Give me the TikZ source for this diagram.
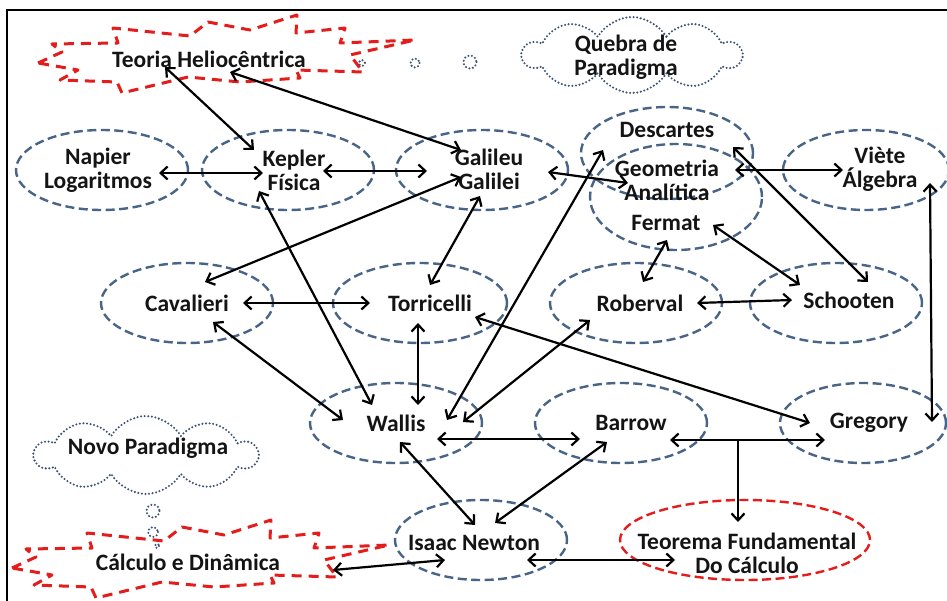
\documentclass[tikz,border=0pt]{standalone}
\usepackage{fontspec}
\setmainfont{Carlito}
\usetikzlibrary{shapes.geometric,shapes.symbols,arrows.meta,calc}
\definecolor{ellc}{RGB}{72,100,135}
\definecolor{redc}{RGB}{228,28,28}
\definecolor{dotc}{RGB}{60,82,118}
\begin{document}
\begin{tikzpicture}[x=1pt,y=-1pt,
  ell/.style={ellipse, draw=ellc, line width=2.4pt, dash pattern=on 9pt off 4.5pt, minimum width=172pt, minimum height=80pt, inner sep=0pt},
  redell/.style={ell, draw=redc},
  txt/.style={font=\fontsize{23.5}{24}\selectfont\bfseries, align=center, inner sep=1pt, text=black!92},
  arr/.style={line width=2.2pt, {Straight Barb[length=7pt,width=13pt]}-{Straight Barb[length=7pt,width=13pt]}},
  arrone/.style={line width=2.2pt, -{Straight Barb[length=7pt,width=13pt]}},
  boom/.style={draw=redc, line width=3pt, dash pattern=on 10pt off 7pt, line join=round},
  dotted line/.style={draw=dotc, line width=2.3pt, line cap=round, dash pattern=on 0pt off 3.6pt},
  puff/.style={cloud, cloud puffs=10, cloud puff arc=120, aspect=2.8, dotted line, inner sep=0pt}
]
\useasboundingbox (0,0) rectangle (947,601);
\clip (0,0) rectangle (947,601);
\fill[white] (0,0) rectangle (947,601);
% frame
\draw[line width=2.6pt] (7,620) -- (7,10) -- (960,10);

% explosions
\draw[boom] (38,63) -- (62,52) -- (52,44) -- (118,43) -- (113,28) -- (190,36) -- (208,22) -- (250,30) -- (297,15) -- (296,33) -- (345,28) -- (340,43) -- (415,40) -- (350,55) -- (363,72) -- (296,70) -- (300,78) -- (240,82) -- (188,77) -- (122,93) -- (117,82) -- (60,80) -- (78,70) -- cycle;
\begin{scope}[shift={(-26,505)}]
\draw[boom] (38,63) -- (62,52) -- (52,44) -- (118,43) -- (113,28) -- (190,36) -- (208,22) -- (250,30) -- (297,15) -- (296,33) -- (345,28) -- (340,43) -- (415,40) -- (350,55) -- (363,72) -- (296,70) -- (300,78) -- (240,82) -- (188,77) -- (122,93) -- (117,82) -- (60,80) -- (78,70) -- cycle;
\end{scope}

% clouds and thought bubbles
\node[puff, minimum width=218pt, minimum height=76pt] (quebraC) at (632,55) {};
\node[puff, minimum width=222pt, minimum height=78pt] (novoC) at (146,455) {};
\draw[dotted line] (362,63) circle (3);
\draw[dotted line] (415,63) circle (4.5);
\draw[dotted line] (470,62) circle (6.5);
\draw[dotted line] (153,511) circle (6.5);
\draw[dotted line] (153,532) circle (5);
\draw[dotted line] (157,546) circle (2);

% ellipses
\node[ell] (napierE) at (102,170) {};
\node[ell] (keplerE) at (288,170) {};
\node[ell] (galileuE) at (482,170) {};
\node[ell, minimum height=92pt] (descartesE) at (667,153) {};
\node[ell, minimum height=106pt] (fermatE) at (676,197) {};
\node[ell, minimum width=166pt] (vieteE) at (866,170) {};
\node[ell] (cavalE) at (187,303) {};
\node[ell, minimum width=174pt] (torriE) at (420,303) {};
\node[ell] (roberE) at (636,303) {};
\node[ell] (schooE) at (836,303) {};
\node[ell] (wallisE) at (396,423) {};
\node[ell] (barrowE) at (621,423) {};
\node[ell, minimum width=166pt] (gregoryE) at (863,423) {};
\node[ell] (newtonE) at (481,540) {};
\node[redell, minimum width=250pt] (teoremaE) at (745,540) {};

% texts
\node[txt] (teo) at (209,59) {Teoria Heliocêntrica};
\node[txt] (quebra) at (626,57) {Quebra de\\Paradigma};
\node[txt] (napier) at (98,170) {Napier\\Logaritmos};
\node[txt] (kepler) at (294,170) {Kepler\\Física};
\node[txt] (galileu) at (489,169) {Galileu\\Galilei};
\node[txt] (descartes) at (667,130) {Descartes};
\node[txt] (geom) at (667,180) {Geometria\\Analítica};
\node[txt] (fermat) at (666,223) {Fermat};
\node[txt] (viete) at (880,169) {Viète\\Álgebra};
\node[txt] (caval) at (187,303) {Cavalieri};
\node[txt] (torri) at (430,303) {Torricelli};
\node[txt] (rober) at (640,303) {Roberval};
\node[txt] (schoo) at (849,300) {Schooten};
\node[txt] (wallis) at (396,423) {Wallis};
\node[txt] (barrow) at (631,423) {Barrow};
\node[txt] (gregory) at (869,423) {Gregory};
\node[txt] (newton) at (474,543) {Isaac Newton};
\node[txt] (teorema) at (747,553) {Teorema Fundamental\\Do Cálculo};
\node[txt] (novo) at (148,448) {Novo Paradigma};
\node[txt] (calc) at (188,562) {Cálculo e Dinâmica};

% connectors
\draw[arr] ($(teo)+(-44,8)$) -- ($(kepler)+(-40,-20)$);
\draw[arr] ($(teo)+(21,13)$) -- ($(galileu)+(-28,-19)$);
\draw[arr] ($(napier)+(61,3)$) -- ($(kepler)+(-31,3)$);
\draw[arr] ($(kepler)+(29,1)$) -- ($(galileu)+(-62,2)$);
\draw[arr] ($(caval)+(18,-21)$) -- ($(galileu)+(-28,8)$);
\draw[arr] ($(kepler)+(-35,21)$) -- ($(wallis)+(-24,-18)$);
\draw[arr] ($(galileu)+(-9,27)$) -- ($(torri)+(0,-18)$);
\draw[arr] ($(galileu)+(59,3)$) -- ($(geom)+(-39,3)$);
\draw[arr] ($(wallis)+(51,-3)$) -- ($(descartes)+(-64,20)$);
\draw[arr] ($(wallis)+(67,-1)$) -- ($(rober)+(-50,17)$);
\draw[arr] ($(caval)+(56,0)$) -- ($(torri)+(-60,0)$);
\draw[arr] ($(caval)+(26,19)$) -- ($(wallis)+(-53,-3)$);
\draw[arr] ($(torri)+(-12,20)$) -- ($(wallis)+(22,-18)$);
\draw[arr] ($(torri)+(45,14)$) -- ($(gregory)+(-59,0)$);
\draw[arr] ($(wallis)+(41,16)$) -- ($(barrow)+(-51,16)$);
\draw[arr] ($(wallis)+(4,19)$) -- ($(newton)+(1,-18)$);
\draw[arr] ($(barrow)+(-24,19)$) -- ($(newton)+(21,-20)$);
\draw[arr] ($(barrow)+(39,17)$) -- ($(gregory)+(-44,17)$);
\coordinate (junction) at ($(barrow)+(107,17)$);
\draw[arrone] (junction) -- ($(teorema)+(-9,-31)$);
\draw[arr] ($(newton)+(53,17)$) -- ($(teorema)+(-72,7)$);
\draw[arr] ($(calc)+(145,8)$) -- ($(newton)+(-29,17)$);
\draw[arr] ($(geom)+(68,-10)$) -- ($(viete)+(-37,1)$);
\draw[arr] ($(descartes)+(66,17)$) -- ($(schoo)+(19,-18)$);
\draw[arr] ($(fermat)+(47,2)$) -- ($(schoo)+(-49,-15)$);
\draw[arr] ($(fermat)+(1,17)$) -- ($(rober)+(3,-21)$);
\draw[arr] ($(rober)+(57,0)$) -- ($(schoo)+(-57,0)$);
\draw[arr] ($(viete)+(50,14)$) -- ($(gregory)+(63,-1)$);
\end{tikzpicture}
\end{document}
